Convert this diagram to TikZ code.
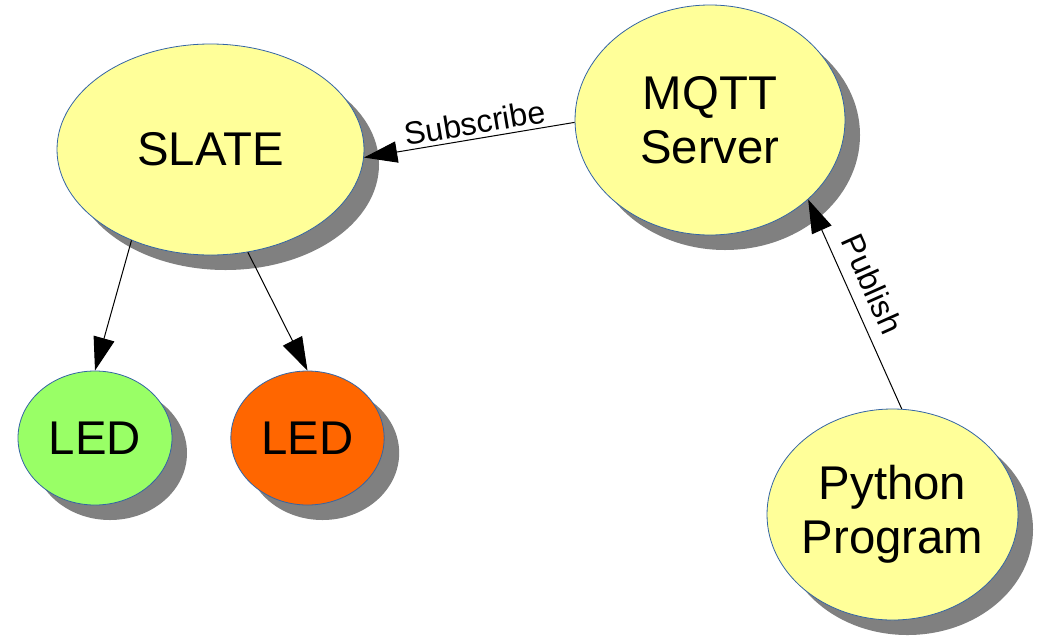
\documentclass[tikz,border=0pt]{standalone}
\usepackage{fontspec}
\setmainfont{Liberation Sans}
\usetikzlibrary{shapes.geometric,shadows,arrows.meta}
\definecolor{nodeyellow}{HTML}{FFFF99}
\definecolor{ledgreen}{HTML}{99FF66}
\definecolor{ledorange}{HTML}{FF6600}
\definecolor{rimblue}{HTML}{3465A4}
\definecolor{shadowgray}{HTML}{808080}
\begin{document}
\begin{tikzpicture}[x=0.75pt,y=-0.75pt,
  bubble/.style={ellipse, draw=rimblue, line width=0.6pt, inner sep=0pt, align=center,
    font=\fontsize{35.5pt}{40.5pt}\selectfont,
    drop shadow={shadow xshift=11.25pt, shadow yshift=-11.25pt, fill=shadowgray, opacity=1}},
  link/.style={line width=0.75pt, -{Triangle[length=25pt,width=16pt]}},
  tag/.style={font=\fontsize{24pt}{28pt}\selectfont, sloped, above, inner sep=3pt}]

  % white page
  \path[use as bounding box, fill=white] (0,0) rectangle (1037,636);

  % the five bubbles
  \node[bubble, fill=nodeyellow, minimum width=230.25pt, minimum height=158.25pt]
    (slate) at (210.5,149.5) {SLATE};
  \node[bubble, fill=nodeyellow, minimum width=202.5pt, minimum height=172.5pt]
    (mqtt) at (710,120) {MQTT\\Server};
  \node[bubble, fill=ledgreen, minimum width=115.5pt, minimum height=100.5pt]
    (ledg) at (95,438) {LED};
  \node[bubble, fill=ledorange, minimum width=115pt, minimum height=100.5pt]
    (ledo) at (307.5,438) {LED};
  \node[bubble, fill=nodeyellow, inner xsep=-5pt, minimum width=188.25pt, minimum height=158.25pt]
    (python) at (892.5,514.5) {\raisebox{-4pt}{\parbox{140pt}{\centering Python\\Program}}};

  % connectors
  \draw[link] (slate.229) -- (ledg.north);
  \draw[link] (slate.290) -- (ledo.north);
  \draw[link] (mqtt.181) -- node[tag, pos=0.46] (sublbl) {Subscribe} (slate.-3);
  \draw[link] (python.85) -- node[tag, above=6pt, pos=0.55] (publbl) {Publish} (mqtt.-39);
\end{tikzpicture}
\end{document}
